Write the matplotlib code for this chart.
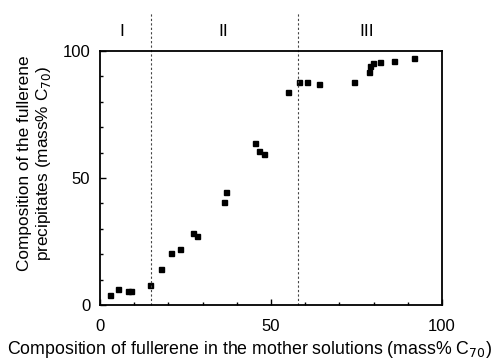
import matplotlib
matplotlib.use('Agg')
import matplotlib.pyplot as plt
from matplotlib.ticker import MultipleLocator

plt.rcParams['font.family'] = ['Liberation Sans', 'DejaVu Sans']

# composition in mother solution (mass% C70) vs precipitate composition (mass% C70)
x_mother = [2.9, 5.4, 8.3, 9.0, 14.6, 17.7, 20.9, 23.4, 27.1, 28.4, 36.2, 36.9,
            45.4, 46.4, 47.9, 54.9, 58.1, 60.6, 63.9, 74.4, 78.7, 79.0, 79.7,
            82.0, 85.9, 91.7]
y_precip = [4.0, 6.4, 5.5, 5.4, 8.0, 14.3, 20.5, 21.9, 28.3, 27.3, 40.4, 44.6,
            63.8, 60.6, 59.6, 83.7, 87.7, 87.9, 86.9, 87.7, 91.7, 94.1, 95.1,
            95.5, 96.1, 97.2]

region_bounds = [15, 58]
region_labels = ['I', 'II', 'III']
region_label_x = [6.4, 36, 78]

fig = plt.figure(figsize=(5, 3.61), dpi=100)
ax = fig.add_axes([0.2, 0.155, 0.684, 0.704])

ax.plot(x_mother, y_precip, 's', color='black', markersize=3.6)

for b in region_bounds:
    ax.plot([b, b], [0, 115], linestyle=(0, (2, 2)), color='#444444',
            linewidth=0.8, clip_on=False)
for lab, lx in zip(region_labels, region_label_x):
    ax.text(lx, 107.5, lab, ha='center', va='center', fontsize=12.5)

ax.set_xlim(0, 100)
ax.set_ylim(0, 100)
ax.set_xticks([0, 50, 100])
ax.set_yticks([0, 50, 100])
ax.xaxis.set_minor_locator(MultipleLocator(10))
ax.yaxis.set_minor_locator(MultipleLocator(10))
ax.tick_params(which='both', direction='in', labelsize=12, width=1)
ax.tick_params(which='major', length=4)
ax.tick_params(which='minor', length=2.5)
ax.tick_params(axis='x', pad=10)
ax.tick_params(axis='y', pad=7)
for s in ax.spines.values():
    s.set_linewidth(1.3)

fig.text(0.5, 0.02,
         'Composition of fullerene in the mother solutions (mass% C$_{70}$)',
         ha='center', va='baseline', fontsize=12.8)
fig.text(0.07, 0.548,
         'Composition of the fullerene\nprecipitates (mass% C$_{70}$)',
         ha='center', va='center', rotation=90, fontsize=12.4,
         linespacing=1.1)

fig.savefig('out.png', dpi=100)
